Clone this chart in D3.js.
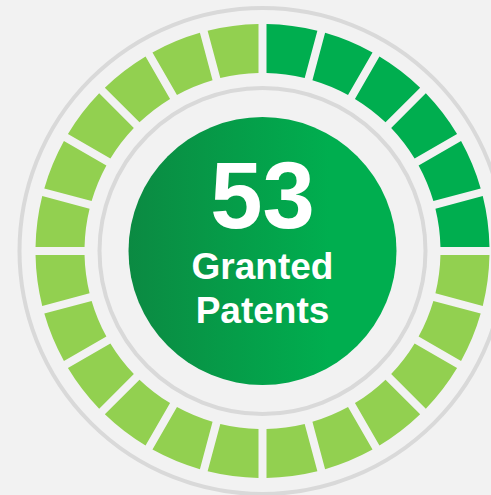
<!DOCTYPE html>
<html lang="en">
<head>
    <meta charset="UTF-8">
    <title>Granted Patents</title>
    <script src="https://d3js.org/d3.v7.min.js"></script>
    <style>
        body { margin: 0; background: #f2f2f2; }
        svg { display: block; }
        .label { font-family: "Liberation Sans", Arial, sans-serif; font-weight: bold; fill: #fff; text-anchor: middle; }
    </style>
</head>
<body>
<svg id="main" width="491" height="495"></svg>
<script>
    // 24 segments, clockwise from 12 o'clock; 1 = highlighted (dark green)
    const segments = [1,1,1,1,1,1, 0,0,0,0,0,0, 0,0,0,0,0,0, 0,0,0,0,0,0];
    const bigValue = '53';
    const labelLines = ['Granted', 'Patents'];
    const segColors = ['#92d050', '#00ae4f'];

    let svg = d3.select('#main');
    let cx = 262.5, cy = 251;

    let defs = svg.append('defs');
    let grad = defs.append('linearGradient').attr('id', 'core')
        .attr('x1', '0%').attr('x2', '100%').attr('y1', '0%').attr('y2', '0%');
    grad.append('stop').attr('offset', '0%').attr('stop-color', '#0b8a42');
    grad.append('stop').attr('offset', '75%').attr('stop-color', '#00ae4f');
    grad.append('stop').attr('offset', '100%').attr('stop-color', '#00ae4f');

    svg.append('rect').attr('width', 491).attr('height', 495).attr('fill', '#f2f2f2');

    let g = svg.append('g').attr('transform', `translate(${cx},${cy})`);

    // thin guide rings
    g.append('circle').attr('r', 243).attr('fill', 'none')
        .attr('stroke', '#d9d9d9').attr('stroke-width', 4);
    g.append('circle').attr('r', 163).attr('fill', 'none')
        .attr('stroke', '#d9d9d9').attr('stroke-width', 4);

    let pie = d3.pie().value(1).sort(null);
    let arc = d3.arc()
        .innerRadius(178)
        .outerRadius(227)
        .padAngle(0.04)
        .padRadius(200);

    g.selectAll('path.seg')
        .data(pie(segments))
        .enter()
        .append('path')
        .attr('class', 'seg')
        .attr('d', arc)
        .style('fill', function (d) { return segColors[d.data]; });

    g.append('circle').attr('r', 134).attr('fill', 'url(#core)');

    g.append('text').attr('class', 'label')
        .attr('y', -23).style('font-size', '94px')
        .text(bigValue);

    g.selectAll('text.sub')
        .data(labelLines)
        .enter()
        .append('text')
        .attr('class', 'label sub')
        .attr('y', function (d, i) { return 28 + i * 44; })
        .style('font-size', '37px')
        .text(function (d) { return d; });
</script>
</body>
</html>
